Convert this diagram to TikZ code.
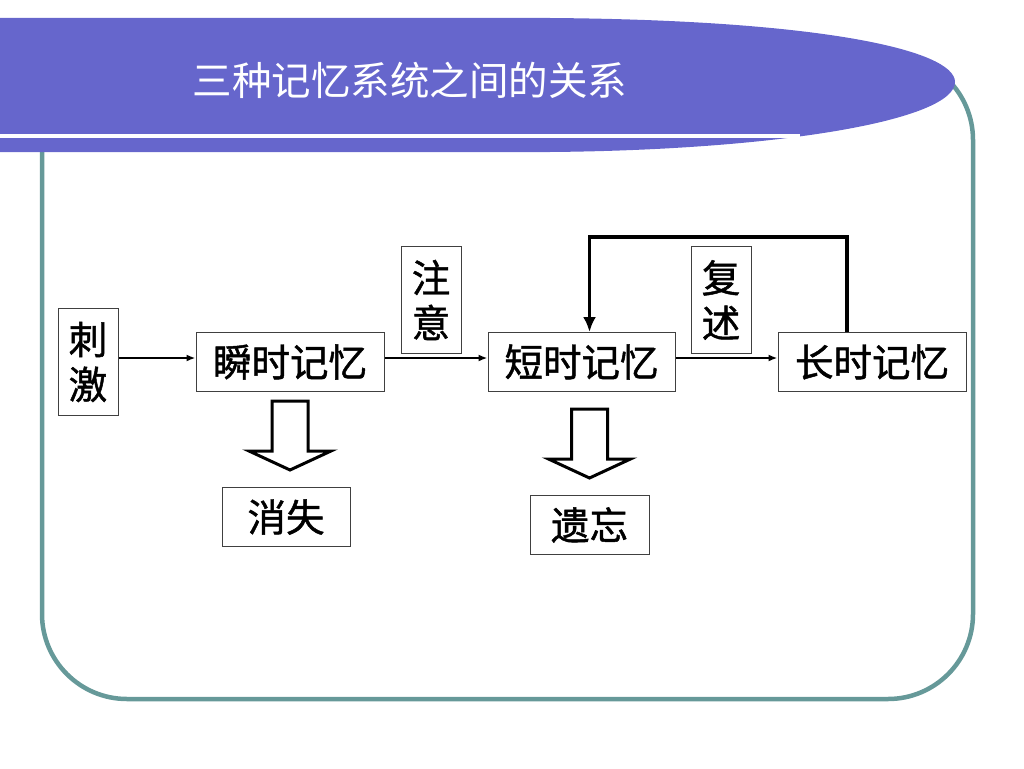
\documentclass[tikz,border=0pt]{standalone}
\usepackage{fontspec}
\newfontfamily\cjk{Noto Sans CJK SC}
\newfontfamily\cjkheavy[FakeBold=1.2]{Noto Sans CJK SC}
\usetikzlibrary{positioning}
\usetikzlibrary{arrows.meta}
\definecolor{hdrblue}{RGB}{102,102,204}
\definecolor{frameteal}{RGB}{102,153,153}

\begin{document}
\begin{tikzpicture}[x=1pt, y=-1pt,
    box/.style={draw=black!75, line width=1pt, inner sep=0pt, minimum height=59pt,
      font=\cjkheavy\fontsize{38.5}{45}\selectfont},
    vbox/.style={box, align=center, minimum width=60pt, minimum height=107pt},
    flow/.style={-{Latex[length=9pt,width=7pt]}, line width=2pt},
    loopback/.style={-{Latex[length=15pt,width=13pt]}, line width=3.5pt},
    hollowdown/.pic={\draw[line width=3pt] (-18,0) -- (18,0) -- (18,50) -- (41,50)
      -- (0,69) -- (-41,50) -- (-18,50) -- cycle;}]
  \useasboundingbox (0,0) rectangle (1024,768);
  % frame and header
  \draw[frameteal, line width=4.5pt, rounded corners=85pt] (42,55) rectangle (973,699);
  \fill[hdrblue] (0,18) -- (550,18) .. controls (820,20) and (955,50) .. (955,82)
    .. controls (955,120) and (780,150) .. (550,152) -- (0,152) -- cycle;
  \draw[white, line width=4pt] (0,136) -- (800,136);
  \node[text=white, font=\cjk\fontsize{39.5}{40}\selectfont] (title) at (410,80) {三种记忆系统之间的关系};
  % memory stores
  \node[box, minimum width=188pt] (shun) at (290,362) {瞬时记忆};
  \node[box, minimum width=187pt, right=103pt of shun] (duan) {短时记忆};
  \node[box, minimum width=188pt, right=102pt of duan] (chang) {长时记忆};
  \node[vbox, left=77pt of shun] (cj) {刺\\激};
  \node[vbox] (zy) at (431,300) {注\\意};
  \node[vbox] (fs) at (721,300) {复\\述};
  \node[box, minimum width=128pt, below=95pt of shun, xshift=-4pt] (xs) {消失};
  \node[box, minimum width=119pt, below=103pt of duan, xshift=8pt] (yw) {遗忘};
  % connectors
  \draw[flow] ([yshift=4pt]cj.east) -- ([yshift=4pt]shun.west);
  \draw[flow] ([yshift=4pt]shun.east) -- ([yshift=4pt]duan.west);
  \draw[flow] ([yshift=4pt]duan.east) -- ([yshift=4pt]chang.west);
  \draw[loopback] ([xshift=-25pt]chang.north) -- ++(0,-95) -| ([xshift=8pt]duan.north);
  \path (shun.south) ++(0,9) pic {hollowdown};
  \path (duan.south) ++(8,17) pic {hollowdown};
\end{tikzpicture}
\end{document}
